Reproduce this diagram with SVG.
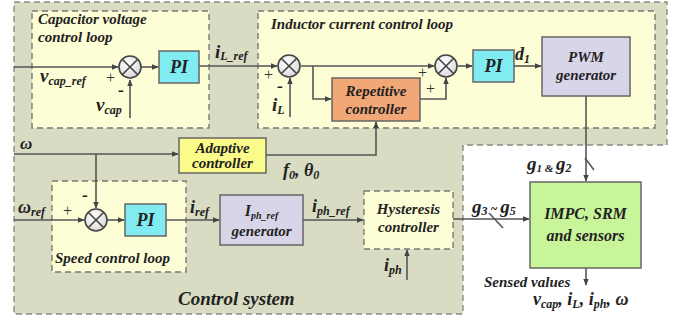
<svg xmlns="http://www.w3.org/2000/svg" width="685" height="323" viewBox="0 0 685 323" font-family="Liberation Serif, Times New Roman, Tinos, Nimbus Roman, DejaVu Serif, serif">
<defs>
<marker id="ar" viewBox="0 0 10 10" refX="9" refY="5" markerWidth="7" markerHeight="7" orient="auto" markerUnits="userSpaceOnUse">
<path d="M0,1 L10,5 L0,9 Z" fill="#444"/>
</marker>
<radialGradient id="jg" cx="0.4" cy="0.35" r="0.7">
<stop offset="0" stop-color="#ffffff"/><stop offset="1" stop-color="#d8d8d8"/>
</radialGradient>
</defs>
<style>
.t{font-style:italic;font-weight:bold;fill:#222}
.c{text-anchor:middle}
.ln{fill:none;stroke:#555;stroke-width:1.6}
.a{marker-end:url(#ar)}
.box{stroke:#666;stroke-width:1.5}
.dash{fill:#fdfdd6;stroke:#777;stroke-width:1.4;stroke-dasharray:6,4}
.j{fill:url(#jg);stroke:#444;stroke-width:1.6}
.jx{stroke:#444;stroke-width:1.6}
.pm{fill:#333;font-weight:normal}
</style>
<rect width="685" height="323" fill="#ffffff"/>
<g id="control-system">
<path d="M14,2 H667 V145 H463 V314 H14 Z" fill="#d9dcc3" stroke="#8a8a86" stroke-width="1.4" stroke-dasharray="6,4"/>
<text class="t" x="178" y="305" font-size="19">Control system</text>
</g>
<g id="cap-loop">
<rect class="dash" x="32" y="11" width="177" height="117"/>
<text class="t" x="38" y="24" font-size="15">Capacitor voltage</text>
<text class="t" x="38" y="42" font-size="15">control loop</text>
</g>
<g id="ind-loop">
<rect class="dash" x="258" y="11" width="397" height="117"/>
<text class="t" x="271" y="29" font-size="15">Inductor current control loop</text>
</g>
<g id="speed-loop">
<rect class="dash" x="52" y="181" width="134" height="91"/>
<text class="t" x="55" y="263" font-size="15">Speed control loop</text>
</g>
<g id="connectors">
<path class="ln a" d="M14,67 H118"/>
<path class="ln a" d="M130,118 V80"/>
<path class="ln a" d="M141,67 H158"/>
<path class="ln a" d="M199,66 H277"/>
<path class="ln a" d="M290,117 V78"/>
<path class="ln a" d="M301,66 H434"/>
<path class="ln a" d="M313,66 V99 H331"/>
<path class="ln a" d="M420,99 H446 V78"/>
<path class="ln a" d="M458,66 H472"/>
<path class="ln a" d="M514,66 H541"/>
<path class="ln a" d="M586,96 V181"/>
<path class="ln" d="M585,158 L594,170"/>
<path class="ln a" d="M14,154 H178"/>
<path class="ln a" d="M96,154 V208"/>
<path class="ln a" d="M266,155 H376 V122"/>
<path class="ln a" d="M14,220 H84"/>
<path class="ln a" d="M107,220 H124"/>
<path class="ln a" d="M166,220 H219"/>
<path class="ln a" d="M303,220 H363"/>
<path class="ln a" d="M407,280 V250"/>
<path class="ln a" d="M453,219 H529"/>
<path class="ln" d="M489,213 L503,228"/>
<path class="ln a" d="M586,268 V285"/>
</g>
<g id="sum1">
<circle class="j" cx="130" cy="67" r="11"/>
<path class="jx" d="M122.2,59.2 L137.8,74.8 M137.8,59.2 L122.2,74.8"/>
</g>
<g id="sum2">
<circle class="j" cx="289" cy="66" r="11"/>
<path class="jx" d="M281.2,58.2 L296.8,73.8 M296.8,58.2 L281.2,73.8"/>
</g>
<g id="sum3">
<circle class="j" cx="446" cy="66" r="11"/>
<path class="jx" d="M438.2,58.2 L453.8,73.8 M453.8,58.2 L438.2,73.8"/>
</g>
<g id="sum4">
<circle class="j" cx="96" cy="220" r="11"/>
<path class="jx" d="M88.2,212.2 L103.8,227.8 M103.8,212.2 L88.2,227.8"/>
</g>
<g id="pi1">
<rect class="box" x="159" y="51" width="40" height="32" fill="#80ecf2"/>
<text class="t c" x="179" y="73" font-size="18">PI</text>
</g>
<g id="pi2">
<rect class="box" x="473" y="50" width="41" height="32" fill="#80ecf2"/>
<text class="t c" x="493.5" y="72" font-size="18">PI</text>
</g>
<g id="pi3">
<rect class="box" x="125" y="204" width="41" height="32" fill="#80ecf2"/>
<text class="t c" x="145.5" y="226" font-size="18">PI</text>
</g>
<g id="repetitive">
<rect class="box" x="332" y="78" width="88" height="43" fill="#f2a777"/>
<text class="t c" x="376" y="96" font-size="15" font-weight="normal">Repetitive</text>
<text class="t c" x="376" y="114" font-size="15" font-weight="normal">controller</text>
</g>
<g id="pwm">
<rect class="box" x="542" y="37" width="88" height="59" fill="#d9d5e9"/>
<text class="t c" x="586" y="62" font-size="15">PWM</text>
<text class="t c" x="586" y="80" font-size="15">generator</text>
</g>
<g id="adaptive">
<rect class="box" x="179" y="138" width="87" height="35" fill="#fbfb8a"/>
<text class="t c" x="222.5" y="153" font-size="15" font-weight="normal">Adaptive</text>
<text class="t c" x="222.5" y="168" font-size="15" font-weight="normal">controller</text>
</g>
<g id="iph-gen">
<rect class="box" x="220" y="195" width="83" height="50" fill="#d9d5e9"/>
<text class="t c" x="261.5" y="216" font-size="16">I<tspan font-size="10" dy="3">ph_ref</tspan></text>
<text class="t c" x="261.5" y="236" font-size="15">generator</text>
</g>
<g id="hysteresis">
<rect class="dash" x="364" y="191" width="89" height="58" fill="#fbfbd6"/>
<text class="t c" x="408.5" y="214" font-size="15" font-weight="normal">Hysteresis</text>
<text class="t c" x="408.5" y="232" font-size="15" font-weight="normal">controller</text>
</g>
<g id="impc">
<rect class="box" x="530" y="182" width="111" height="86" fill="#c9f59a"/>
<text class="t c" x="585.5" y="219" font-size="16">IMPC, SRM</text>
<text class="t c" x="585.5" y="241" font-size="16">and sensors</text>
</g>
<g id="labels">
<text class="t" x="40" y="82" font-size="19">v<tspan font-size="12" dy="3">cap_ref</tspan></text>
<text class="pm" x="106" y="83" font-size="16">+</text>
<text class="t" x="118" y="96" font-size="18">-</text>
<text class="t" x="96" y="111" font-size="19">v<tspan font-size="12" dy="3">cap</tspan></text>
<text class="t" x="215" y="58" font-size="19">i<tspan font-size="12" dy="2">L_ref</tspan></text>
<text class="pm" x="264" y="80" font-size="16">+</text>
<text class="t" x="277" y="92" font-size="18">-</text>
<text class="t" x="272" y="111" font-size="19">i<tspan font-size="12" dy="3">L</tspan></text>
<text class="pm" x="418" y="78" font-size="16">+</text>
<text class="pm" x="426" y="94" font-size="16">+</text>
<text class="t" x="515" y="60" font-size="18">d<tspan font-size="12" dy="3">1</tspan></text>
<text class="t" x="20" y="149" font-size="17">ω</text>
<text class="t" x="283" y="176" font-size="18">f<tspan font-size="12" dy="3">0</tspan><tspan dy="-3">, θ</tspan><tspan font-size="12" dy="3">0</tspan></text>
<text class="t" x="18" y="213" font-size="18">ω<tspan font-size="12" dy="3">ref</tspan></text>
<text class="pm" x="63" y="216" font-size="16">+</text>
<text class="t" x="82" y="201" font-size="18">-</text>
<text class="t" x="190" y="213" font-size="18">i<tspan font-size="12" dy="3">ref</tspan></text>
<text class="t" x="312" y="212" font-size="18">i<tspan font-size="12" dy="3">ph_ref</tspan></text>
<text class="t" x="384" y="271" font-size="18">i<tspan font-size="12" dy="3">ph</tspan></text>
<text class="t" x="527" y="170" font-size="19">g<tspan font-size="11" dy="2">1 &amp; </tspan><tspan font-size="19" dy="-2">g</tspan><tspan font-size="12" dy="2">2</tspan></text>
<text class="t" x="472" y="213" font-size="19">g<tspan font-size="12" dy="2">3</tspan><tspan font-size="12" dy="-2"> ~ </tspan><tspan>g</tspan><tspan font-size="12" dy="2">5</tspan></text>
<text class="t" x="484" y="287" font-size="15" font-style="normal">Sensed values</text>
<text class="t" x="533" y="305" font-size="18">v<tspan font-size="12" dy="3">cap</tspan><tspan dy="-3">, i</tspan><tspan font-size="12" dy="3">L</tspan><tspan dy="-3">, i</tspan><tspan font-size="12" dy="3">ph</tspan><tspan dy="-3">, ω</tspan></text>
</g>
</svg>
